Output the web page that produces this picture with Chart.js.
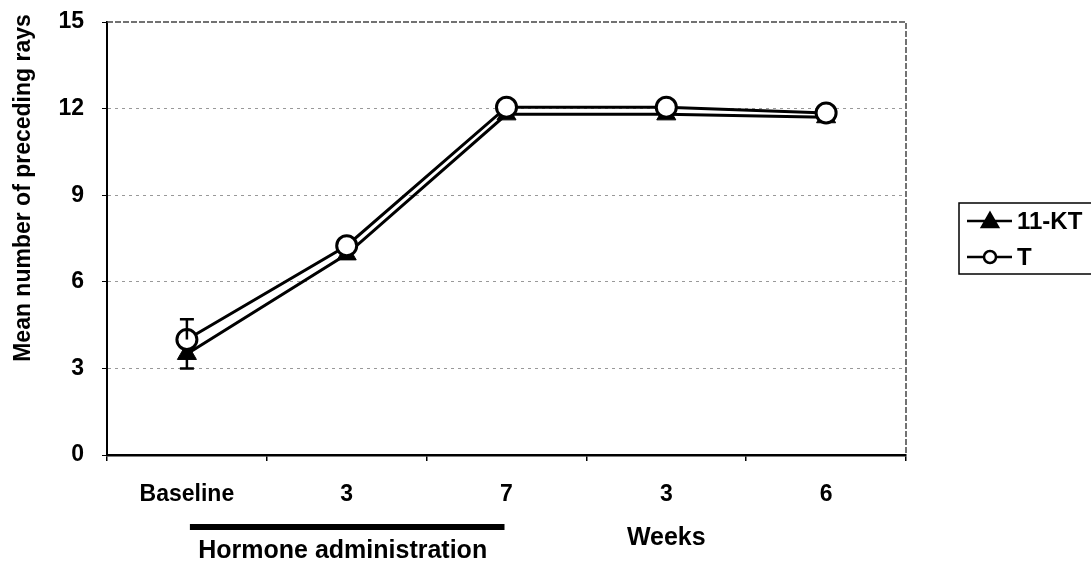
<!DOCTYPE html>
<html>
<head>
<meta charset="utf-8">
<script src="https://cdn.jsdelivr.net/npm/chart.js@4"></script>
<style>
  html, body { margin: 0; padding: 0; background: #fff; }
  #wrap { width: 1091px; height: 565px; }
</style>
</head>
<body>
<div id="wrap"><canvas id="raysChart" width="1091" height="565"></canvas></div>
<script>
const labels = ['Baseline', '3', '7', '3', '6'];
const ktValues = [3.5, 6.95, 11.8, 11.8, 11.7];
const tValues = [4.0, 7.25, 12.05, 12.05, 11.85];
const ktErrDown = [0.5, 0, 0, 0, 0];
const tErrUp = [0.7, 0, 0, 0, 0];
const yTicks = [0, 3, 6, 9, 12, 15];

const FONT = '"Liberation Sans", Arial, sans-serif';

// extra drawing: plot frame, error bars, treatment bar, titles, legend
const extras = {
  id: 'extras',
  afterDatasetsDraw(chart) {
    const ctx = chart.ctx;
    const a = chart.chartArea;
    const x = chart.scales.x, y = chart.scales.y;

    // dashed top/right frame
    ctx.save();
    ctx.strokeStyle = '#444';
    ctx.lineWidth = 1.5;
    ctx.setLineDash([6, 2]);
    ctx.beginPath();
    ctx.moveTo(a.left, a.top);
    ctx.lineTo(a.right, a.top);
    ctx.lineTo(a.right, a.bottom);
    ctx.stroke();
    ctx.restore();

    // error bars (only the visible halves)
    ctx.save();
    ctx.strokeStyle = '#000';
    ctx.lineWidth = 2.5;
    labels.forEach((_, i) => {
      const px = x.getPixelForValue(i);
      if (tErrUp[i] > 0) {
        const y0 = y.getPixelForValue(tValues[i]);
        const y1 = y.getPixelForValue(tValues[i] + tErrUp[i]);
        ctx.beginPath();
        ctx.moveTo(px, y0); ctx.lineTo(px, y1);
        ctx.moveTo(px - 7, y1); ctx.lineTo(px + 7, y1);
        ctx.stroke();
      }
      if (ktErrDown[i] > 0) {
        const y0 = y.getPixelForValue(ktValues[i]);
        const y1 = y.getPixelForValue(ktValues[i] - ktErrDown[i]);
        ctx.beginPath();
        ctx.moveTo(px, y0); ctx.lineTo(px, y1);
        ctx.moveTo(px - 7, y1); ctx.lineTo(px + 7, y1);
        ctx.stroke();
      }
    });
    ctx.restore();
  },
  afterDraw(chart) {
    const ctx = chart.ctx;
    const x = chart.scales.x;

    ctx.save();
    ctx.fillStyle = '#000';

    // hormone administration bar under Baseline..7
    const x0 = x.getPixelForValue(0), x2 = x.getPixelForValue(2);
    ctx.fillRect(x0 + 3, 524, x2 - x0 - 5, 6);

    ctx.font = 'bold 25px ' + FONT;
    ctx.textAlign = 'center';
    ctx.textBaseline = 'middle';
    ctx.fillText('Hormone administration', (x0 + x2) / 2 - 4, 551);
    ctx.fillText('Weeks', x.getPixelForValue(3), 538);

    // y axis title
    ctx.save();
    ctx.translate(24, 188);
    ctx.rotate(-Math.PI / 2);
    ctx.font = 'bold 23px ' + FONT;
    ctx.fillText('Mean number of preceding rays', 0, 0);
    ctx.restore();

    // legend box
    const lx = 959, ly = 203;
    ctx.strokeStyle = '#000';
    ctx.lineWidth = 1.5;
    ctx.strokeRect(lx, ly, 150, 71);
    const rows = [
      { text: '11-KT', style: 'triangle', fill: '#000', y: 221 },
      { text: 'T', style: 'circle', fill: '#fff', y: 257 }
    ];
    rows.forEach(r => {
      ctx.lineWidth = 2.5;
      ctx.strokeStyle = '#000';
      ctx.beginPath();
      ctx.moveTo(967, r.y); ctx.lineTo(1012, r.y);
      ctx.stroke();
      ctx.fillStyle = r.fill;
      ctx.beginPath();
      if (r.style === 'circle') {
        ctx.arc(990, r.y, 6, 0, Math.PI * 2);
      } else {
        ctx.moveTo(990, r.y - 8); ctx.lineTo(998, r.y + 6); ctx.lineTo(982, r.y + 6); ctx.closePath();
      }
      ctx.fill();
      ctx.stroke();
      ctx.fillStyle = '#000';
      ctx.textAlign = 'left';
      ctx.font = 'bold 24px ' + FONT;
      ctx.fillText(r.text, 1017, r.y + 1);
    });
    ctx.restore();
  }
};

const ctx = document.getElementById('raysChart').getContext('2d');
const raysChart = new Chart(ctx, {
  type: 'line',
  data: {
    labels: labels,
    datasets: [
      {
        label: '11-KT',
        data: ktValues,
        borderColor: '#000',
        borderWidth: 3,
        pointStyle: 'triangle',
        pointRadius: 11,
        pointBackgroundColor: '#000',
        pointBorderColor: '#000',
        pointBorderWidth: 1,
        tension: 0,
        order: 1
      },
      {
        label: 'T',
        data: tValues,
        borderColor: '#000',
        borderWidth: 3,
        pointStyle: 'circle',
        pointRadius: 10,
        pointBackgroundColor: '#fff',
        pointBorderColor: '#000',
        pointBorderWidth: 3,
        tension: 0,
        order: 0
      }
    ]
  },
  options: {
    responsive: false,
    animation: false,
    layout: { padding: { top: 22, right: 185, left: 0, bottom: 0 } },
    plugins: {
      legend: { display: false },
      tooltip: { enabled: false }
    },
    scales: {
      x: {
        offset: true,
        afterFit: s => { s.height = 110; s.paddingLeft = 0; s.paddingRight = 0; },
        grid: { offset: true, drawOnChartArea: false, drawTicks: true, tickLength: 6, color: '#000', lineWidth: 1.5 },
        border: { display: true, color: '#000', width: 2.5 },
        ticks: {
          color: '#000',
          padding: 20,
          maxRotation: 0,
          font: { family: FONT, size: 23, weight: 'bold' }
        }
      },
      y: {
        min: 0,
        max: 15,
        afterFit: s => { s.width = 107; s.paddingTop = 0; s.paddingBottom = 0; },
        afterBuildTicks: s => { s.ticks = yTicks.map(v => ({ value: v })); },
        grid: {
          color: c => (c.tick && (c.tick.value === 0 || c.tick.value === 15)) ? 'rgba(0,0,0,0)' : '#999',
          lineWidth: 1,
          drawTicks: true,
          tickLength: 5,
          tickColor: '#000'
        },
        border: { display: true, color: '#000', width: 2, dash: [3, 4] },
        ticks: {
          color: '#000',
          padding: 18,
          font: { family: FONT, size: 23, weight: 'bold' }
        }
      }
    }
  },
  plugins: [extras]
});
</script>
</body>
</html>
